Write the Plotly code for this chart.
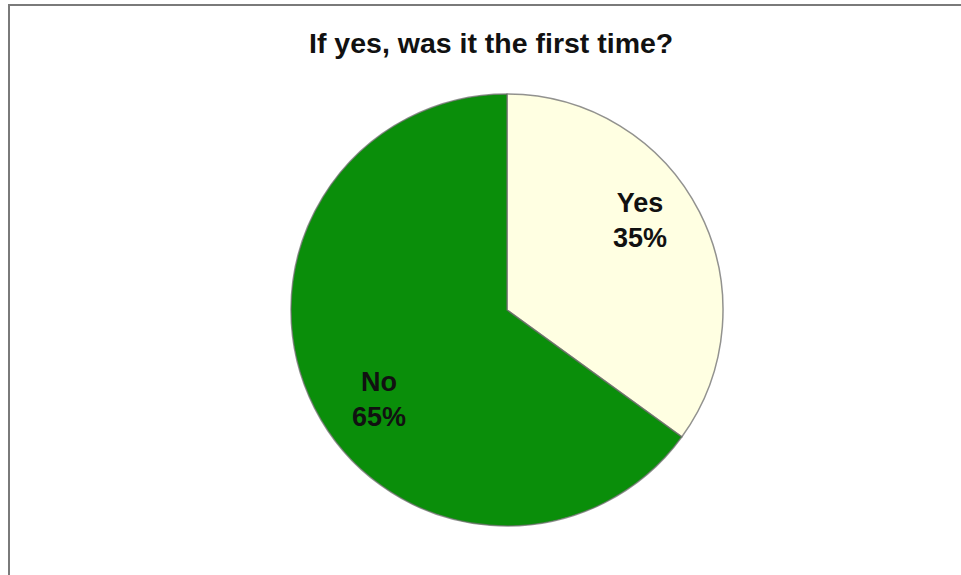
import math
import plotly.graph_objects as go

labels = ["Yes", "No"]
values = [35, 65]
colors = ["#FFFFE2", "#0A8E0A"]
title_text = "If yes, was it the first time?"

W, H = 961, 575
cx, cy, r = 507, 310, 216

fig = go.Figure()
fig.add_trace(go.Pie(
    labels=labels, values=values, sort=False, direction="clockwise", rotation=0,
    marker=dict(colors=colors, line=dict(color="rgba(110,110,110,0.75)", width=1.5)),
    textinfo="none", hoverinfo="label+percent", showlegend=False,
    domain=dict(x=[(cx - r) / W, (cx + r) / W], y=[1 - (cy + r) / H, 1 - (cy - r) / H]),
))

# labels placed along each slice (angle offset deg, radius fraction)
total = sum(values)
cum = 0
placement = [(-7, 0.74), (-8, 0.725)]
for lab, v, (dang, f) in zip(labels, values, placement):
    mid = (cum + v / 2) / total * 2 * math.pi + math.radians(dang)
    cum += v
    px = cx + f * r * math.sin(mid)
    py = cy - f * r * math.cos(mid)
    fig.add_annotation(x=px / W, y=1 - py / H, xref="paper", yref="paper",
                       xanchor="center", yanchor="middle",
                       text=f"<b>{lab}<br>{round(v / total * 100)}%</b>", showarrow=False,
                       font=dict(family="Arial, Liberation Sans", size=27, color="#111"),
                       align="center")

fig.add_annotation(x=491.5 / W, y=1 - 43 / H, xref="paper", yref="paper",
                   xanchor="center", yanchor="middle",
                   text=f"<b>{title_text}</b>", showarrow=False,
                   font=dict(family="Arial, Liberation Sans", size=28.5, color="#111"))

fig.add_shape(type="rect", xref="paper", yref="paper",
              x0=9 / W, x1=1.02, y0=-0.02, y1=1 - 5 / H,
              line=dict(color="#7a7a7a", width=2), fillcolor="rgba(0,0,0,0)")

fig.update_layout(width=W, height=H, margin=dict(l=0, r=0, t=0, b=0),
                  paper_bgcolor="white", plot_bgcolor="white")
fig.write_html("out.html", config={"displayModeBar": False},
               post_script="document.body.style.margin='0';document.body.style.overflow='hidden';")
